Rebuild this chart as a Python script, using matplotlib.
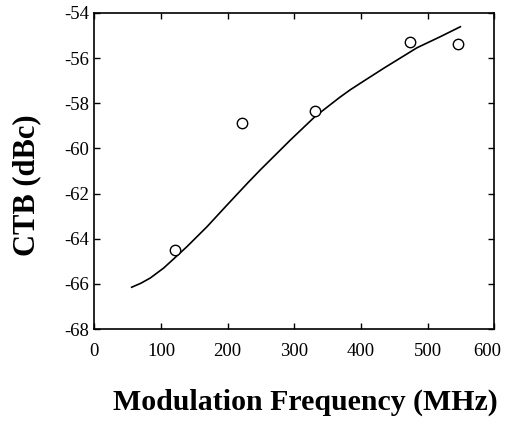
import matplotlib
matplotlib.use('Agg')
import matplotlib.pyplot as plt
from matplotlib.transforms import ScaledTranslation

# measured points (open circles)
freq_pts = [121, 221, 331, 474, 546]
ctb_pts = [-64.5, -58.87, -58.33, -55.3, -55.38]

# fitted curve
freq_fit = [56, 70, 84, 104, 121, 139, 169, 199, 231, 249, 294, 331, 368, 384,
            406, 434, 484, 519, 549]
ctb_fit = [-66.15, -65.97, -65.74, -65.3, -64.84, -64.35, -63.47, -62.51, -61.5,
           -60.95, -59.63, -58.59, -57.74, -57.40, -56.98, -56.45, -55.54,
           -55.05, -54.61]

x_ticks = [0, 100, 200, 300, 400, 500, 600]
y_ticks = [-68, -66, -64, -62, -60, -58, -56, -54]

plt.rcParams['font.family'] = ['Liberation Serif', 'DejaVu Serif']
plt.rcParams['axes.unicode_minus'] = False

fig = plt.figure(figsize=(5.06, 4.29), dpi=100)
ax = fig.add_axes([0.1864, 0.2331, 0.7905, 0.7366])

ax.plot(freq_fit, ctb_fit, color='black', linewidth=1.2)
ax.plot(freq_pts, ctb_pts, linestyle='none', marker='o', markersize=7.5,
        markerfacecolor='white', markeredgecolor='black', markeredgewidth=1.0)

ax.set_xlim(0, 600)
ax.set_ylim(-68, -54)
ax.set_xticks(x_ticks)
ax.set_yticks(y_ticks)
ax.tick_params(direction='in', length=4, width=1, top=True, right=True,
               labelsize=13.5)
ax.tick_params(axis='x', pad=10)
ax.tick_params(axis='y', pad=4)
for s in ax.spines.values():
    s.set_linewidth(1.2)

# keep the last x label inside the figure
last = ax.get_xticklabels()[-1]
last.set_transform(last.get_transform() + ScaledTranslation(-7 / 100, 0, fig.dpi_scale_trans))

fig.text(0.604, 0.045, 'Modulation Frequency (MHz)', ha='center', va='baseline',
         fontsize=21.5, fontweight='bold')
fig.text(0.052, 0.569, 'CTB (dBc)', ha='center', va='center', rotation=90,
         fontsize=22, fontweight='bold')

fig.savefig('out.png', dpi=100)
plt.close(fig)
